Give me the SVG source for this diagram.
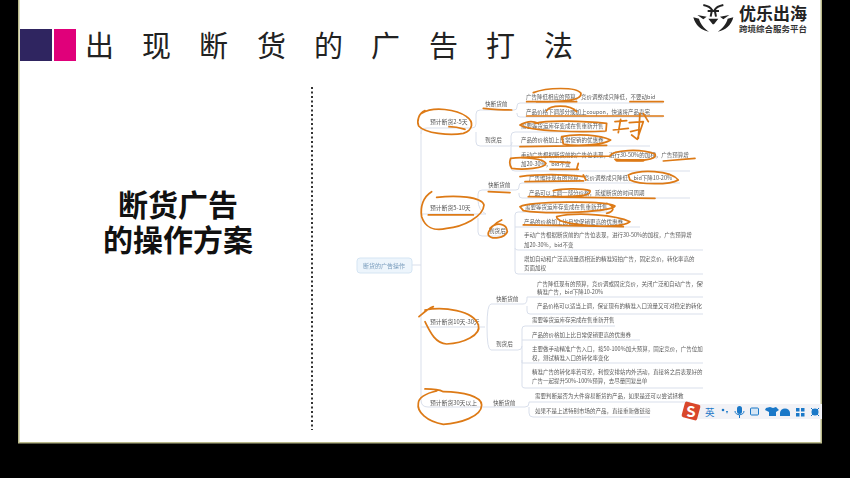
<svg xmlns="http://www.w3.org/2000/svg" width="850" height="478" viewBox="0 0 850 478">
<style>
text{font-family:"Noto Sans CJK SC","Liberation Sans",sans-serif}
.t{font-size:5.5px;fill:#5c5c5c}
.n{font-size:5.8px;fill:#555}
.m{font-size:5.6px;fill:#555}
.c{fill:none;stroke:#d9dfeb;stroke-width:1}
.h{fill:none;stroke:#dd7a16;stroke-width:5.2;stroke-linecap:round;stroke-linejoin:round}
.i{fill:#1a78c8}
</style>
<defs>
<filter id="soft" x="-2%" y="-2%" width="104%" height="104%"><feGaussianBlur stdDeviation="0.3"/></filter>
<clipPath id="mapclip"><rect x="340" y="80" width="363" height="350"/></clipPath>
</defs>
<rect width="850" height="478" fill="#000"/>
<rect x="18" y="0" width="804" height="443.500" fill="#b9b98a"/>
<rect x="19.500" y="0" width="801" height="442" fill="#fff"/>
<rect x="20" y="29" width="32" height="32" fill="#2f2560"/>
<rect x="54" y="29" width="22" height="32" fill="#e0007a"/>
<g id="title" font-size="29" fill="#222">
<text x="85" y="57">出</text><text x="142" y="57">现</text><text x="199" y="57">断</text><text x="257" y="57">货</text><text x="314" y="57">的</text><text x="371" y="57">广</text><text x="429" y="57">告</text><text x="486" y="57">打</text><text x="544" y="57">法</text>
</g>
<g id="logo">
<g transform="translate(640 0) scale(.3333)">
<path d="M190 15 C205 18 212 22 216 30 L212 50 M250 15 C235 18 228 22 224 30 L228 50 M203 33 H237" fill="none" stroke="#222" stroke-width="6"/>
<path d="M205 56 H235 L222 73 H218Z M160 52 C165 75 185 92 207 95 C192 85 180 70 177 56Z M280 52 C275 75 255 92 233 95 C248 85 260 70 263 56Z M172 45 L200 50 L190 58Z M268 45 L240 50 L250 58Z" fill="#222"/>
</g>
<text x="739" y="20" font-size="17" font-weight="700" fill="#222">优乐出海</text>
<text x="739" y="32" font-size="8.500" font-weight="700" fill="#333">跨境综合服务平台</text>
</g>
<path id="divider" d="M312 87 V430" fill="none" stroke="#333" stroke-width="2" stroke-dasharray="2 2.500"/>
<g id="heading" font-size="30" font-weight="700" fill="#111" text-anchor="middle">
<text x="178" y="216">断货广告</text>
<text x="178" y="251">的操作方案</text>
</g>
<g id="mindmap" clip-path="url(#mapclip)" filter="url(#soft)">
<g id="connectors">
<path class="c" d="M412 265 H421 M421 128 V400 Q421 407 428 407 H470 M421 134 Q421 128 427 128 H470 M421 214 H486 M421 327 H473"/>
<path class="c" d="M470 128 H472 Q476 128 476 124 V114 Q476 110 480 110 H512 M476 132 V142 Q476 146 480 146 H510 Q512 146 512 142"/>
<path class="c" d="M512 110 H514 Q517 110 517 107 V106 Q517 103 520 103 H663 M517 113 V114 Q517 117 520 117 H663"/>
<path class="c" d="M511 146 V136 Q511 132 515 132 H605 M511 146 H650 M511 146 V168 Q511 171 515 171 H690"/>
<path class="c" d="M486 214 Q478 210 478 200 V194 Q478 190 482 190 H514 M478 218 V232 Q478 236 482 236 H504"/>
<path class="c" d="M514 190 H516 Q519 190 519 187 V186 Q519 183 522 183 H680 M519 193 V195 Q519 198 522 198 H690"/>
<path class="c" d="M515 236 V215 Q515 212 518 212 H610 M515 227 H640 M515 236 V248 Q515 250 518 250 H703 M515 248 V271 Q515 274 518 274 H703"/>
<path class="c" d="M473 327 H485 M487 327 Q487 304 491 304 H523 M487 327 Q487 350 491 350 H518"/>
<path class="c" d="M523 304 Q527 304 527 299 V297 H703 M527 306 V311 Q527 314 530 314 H703"/>
<path class="c" d="M518 350 Q522 350 522 346 V329 Q522 326 525 326 H615 M522 340 H640 M522 346 V363 H703 M522 360 V386 Q522 388 525 388 H703"/>
<path class="c" d="M470 407 H525 Q529 407 529 403 V402 H690 M529 407 V413 Q529 417 533 417 H650"/>
</g>
<g id="root"><rect x="357" y="258" width="55" height="15" rx="3" fill="#edf5fc" stroke="#d5e5f3"/><text x="363" y="268" font-size="6" fill="#7a9dbd">断货的广告操作</text></g>
<g id="n1"><text class="n" x="430" y="124">预计断货2-5天</text></g>
<g id="n1a"><text class="m" x="485" y="106">快断货前</text></g>
<g id="n1b"><text class="m" x="485" y="142">到货后</text></g>
<g id="n1t">
<text class="t" x="526" y="99">广告降低相应的预算，竞价调整成只降低，不要动bid</text>
<text class="t" x="526" y="114">产品价格下调部分或加上coupon，快速将产品卖完</text>
<text class="t" x="521" y="128">需要等货运库存变成在售重新开售</text>
<text class="t" x="521" y="142">产品的价格加上日常促销的优惠卷</text>
<text class="t" x="521" y="157">手动广告根据断货前的广告位表现，进行30-50%的加权，广告预算增</text>
<text class="t" x="521" y="166">加20-30%，bid不变</text>
</g>
<g id="n2"><text class="n" x="430" y="210">预计断货5-10天</text></g>
<g id="n2a"><text class="m" x="488" y="187">快断货前</text></g>
<g id="n2b"><text class="m" x="489" y="233">到货后</text></g>
<g id="n2t">
<text class="t" x="529" y="180">广告维持现有的预算，竞价调整成只降低，bid下降10-20%</text>
<text class="t" x="529" y="195">产品可以上调一部分价格，延缓断货的时间周期</text>
<text class="t" x="525" y="209">需要等货运库存变成在售重新开售</text>
<text class="t" x="524" y="224">产品的价格加上比日常促销更高的优惠卷</text>
<text class="t" x="524" y="237">手动广告根据断货前的广告位表现，进行30-50%的加权，广告预算增</text>
<text class="t" x="524" y="247">加20-30%，bid不变</text>
<text class="t" x="524" y="261">增加自动和广泛高流量质相近的精准短拍广告，固定竞价，转化率高的</text>
<text class="t" x="524" y="270">页面加权</text>
</g>
<g id="n3"><text class="n" x="430" y="324">预计断货10天-30天</text></g>
<g id="n3a"><text class="m" x="496" y="301">快断货前</text></g>
<g id="n3b"><text class="m" x="496" y="346">到货后</text></g>
<g id="n3t">
<text class="t" x="537" y="286">广告降低现有的预算，竞价调或固定竞价，关闭广泛和自动广告，保留</text>
<text class="t" x="537" y="294">精准广告，bid下降10-20%</text>
<text class="t" x="537" y="308">产品价格可以适当上调，保证现有的精准入口流量又可对稳定的转化</text>
<text class="t" x="532" y="322">需要等货运库存完成在售重新开售</text>
<text class="t" x="532" y="337">产品的价格加上比日常促销更高的优惠券</text>
<text class="t" x="532" y="351">主要做手动精准广告入口，按50-100%加大预算，固定竞价，广告位加</text>
<text class="t" x="532" y="360">权，测试精准入口的转化率变化</text>
<text class="t" x="532" y="374">精准广告的转化率若可控，利恨安排站内外活动，直接将之后表现好的</text>
<text class="t" x="532" y="383">广告一起提升50%-100%预算，去尽量回复出单</text>
</g>
<g id="n4"><text class="n" x="430" y="405">预计断货30天以上</text></g>
<g id="n4a"><text class="m" x="493" y="405">快断货前</text></g>
<g id="n4t">
<text class="t" x="535" y="398">需要判断是否为大件容易断货的产品，如果是还可以尝试拯救</text>
<text class="t" x="535" y="413">如果不是上述特别市场的产品，直接重新做链接</text>
</g>
</g>
<g id="annotations-a" transform="translate(350 80) scale(.3333)">
<path class="h" d="M225 92 C205 100 200 125 206 138 C225 160 300 168 340 160 C370 150 372 125 350 110 C320 88 250 78 215 100"/>
<path class="h" d="M297 140 C320 140 335 145 345 148"/>
<path class="h" d="M400 85 C430 88 460 90 485 90"/>
<path class="h" d="M550 38 C590 22 680 20 693 40 C696 60 650 66 560 66 M530 65 L680 65 M840 65 L940 65"/>
<path class="h" d="M590 92 C600 75 660 72 680 95 M530 108 L940 108"/>
<path class="h" d="M555 130 C590 120 700 122 770 130 L768 153 C700 157 540 155 510 135 C535 120 555 125 565 130"/>
<path class="h" d="M635 170 C680 160 750 165 782 180 C760 195 680 200 640 192 Z M510 200 L770 196"/>
<path class="h" d="M795 125 L830 122 M812 118 L805 158 M790 150 L835 145 M838 128 L880 125 L862 178 L845 165 M842 155 L862 150 M870 100 L865 175 M880 100 L895 125"/>
<path class="h" d="M515 232 L780 228 M780 228 C790 210 870 205 915 222 C925 240 870 245 795 238"/>
<path d="M800 241 L880 241" fill="none" stroke="#dd7a16" stroke-width="8" stroke-linecap="round"/>
<path class="h" d="M940 243 L1035 235"/>
<path class="h" d="M482 235 C520 230 580 235 588 250 C585 265 520 270 485 265 C478 255 478 245 482 235"/>
<path class="h" d="M600 245 L660 248 M600 268 L685 268 M685 250 L680 268"/>
<path class="h" d="M510 290 C580 280 680 285 700 290 M525 305 L700 303 M700 285 L708 300"/>
<path class="h" d="M835 285 C870 268 960 270 985 300 C960 315 870 315 840 300 Z"/>
<path class="h" d="M415 335 L480 338"/>
<path class="h" d="M610 332 C640 324 700 326 720 332 C725 345 700 350 610 350 M535 350 L915 355"/>
<path class="h" d="M510 380 C540 365 760 360 795 378 C790 395 600 405 520 392 Z M770 370 C800 380 790 395 770 400"/>
<path class="h" d="M620 410 C680 395 800 405 840 425 C820 445 690 440 640 425 C625 420 620 415 620 410 M520 435 L820 440"/>
<path class="h" d="M245 335 C220 350 210 380 215 410 C225 440 250 455 290 445 C340 440 400 410 402 375 C395 350 320 345 260 352 M235 405 L370 405"/>
<path class="h" d="M455 420 C430 430 412 455 415 465 C425 480 465 475 472 455 C470 430 440 425 420 445"/>
</g>
<g id="annotations-b" transform="translate(350 265) scale(.3333)">
<path class="h" d="M207 155 C225 140 235 130 250 125 M225 135 C280 125 370 135 385 180 C395 210 340 235 290 237 C255 235 240 200 225 170"/>
<path class="h" d="M225 372 C250 372 270 375 280 380 C340 380 395 395 395 420 C395 455 330 475 280 478 C230 470 200 440 205 415 C205 400 225 385 260 378"/>
</g>
<g id="ime-bar">
<rect x="695" y="404" width="127" height="15" fill="#f2f2f6"/>
<rect x="683" y="403" width="16" height="16" rx="2" transform="rotate(15 691 411)" fill="#d9472b"/>
<text x="691" y="417" font-size="15" font-weight="700" fill="#fff" text-anchor="middle" font-family="Liberation Sans">S</text>
<text x="705" y="416" font-size="9.500" fill="#1a78c8">英</text>
<circle class="i" cx="723" cy="410" r="1.300"/><path class="i" d="M726 411 h2 l-1 3z"/>
<rect class="i" x="737" y="406" width="5" height="8" rx="2.500"/><path d="M735 411 C735 416 744 416 744 411 M739.500 415 V418" fill="none" stroke="#1a78c8"/>
<rect x="750.500" y="408" width="8" height="7" rx="1" fill="#d6e6f5" stroke="#1a78c8"/>
<path class="i" d="M766 408 L770 407 L773 408 L776 407 L779 410 L776 412 V416 H769 V412 L765 410Z"/>
<path class="i" d="M780 413 a5 4.500 0 0 1 10 0 v3 h-10z"/>
<rect class="i" x="796" y="408" width="3.500" height="3.500"/><rect class="i" x="801" y="408" width="3.500" height="3.500"/><rect class="i" x="796" y="413" width="3.500" height="3.500"/><rect class="i" x="801" y="413" width="3.500" height="3.500"/>
<circle class="i" cx="815" cy="412" r="3.500"/><path d="M811 408 L819 416 M819 408 L811 416" stroke="#1a78c8"/>
</g>
</svg>
